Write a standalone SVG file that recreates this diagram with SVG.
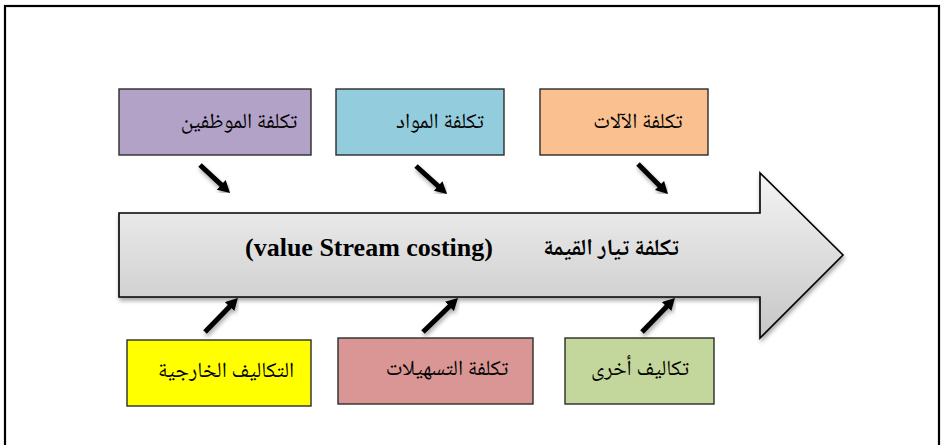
<svg xmlns="http://www.w3.org/2000/svg" width="945" height="445" viewBox="0 0 945 445">
<style>
.box{stroke:#2b2b2b;stroke-width:1.4}
.lbl{font-family:"Noto Naskh Arabic","DejaVu Serif","DejaVu Sans",serif;font-size:21.5px;fill:#000;text-anchor:middle}
.conn{stroke:#000;stroke-width:5;fill:none;marker-end:url(#head);filter:url(#sh)}
.main{font-family:"Liberation Serif","DejaVu Sans",serif;font-weight:bold;font-size:26px;fill:#000;text-anchor:middle}
.mainar{font-family:"Noto Naskh Arabic","DejaVu Sans",serif;font-weight:bold;font-size:23px;fill:#000;text-anchor:middle}
</style>
<defs>
<linearGradient id="g" x1="0" y1="0" x2="0" y2="1">
<stop offset="0" stop-color="#f4f4f4"/>
<stop offset="1" stop-color="#c6c6c6"/>
</linearGradient>
<marker id="head" markerUnits="userSpaceOnUse" markerWidth="12" markerHeight="13" refX="2" refY="6.5" orient="auto">
<path d="M0,0 L12,6.5 L0,13 z" fill="#000"/>
</marker>
<filter id="sh" x="-30%" y="-30%" width="160%" height="160%">
<feDropShadow dx="1" dy="3" stdDeviation="2" flood-color="#000" flood-opacity="0.35"/>
</filter>
</defs>
<rect x="5" y="6" width="934" height="450" fill="#fff" stroke="#000" stroke-width="2.2"/>
<g id="value-stream">
<polygon points="119,213 760,213 760,173 843,255 760,338 760,297 119,297" fill="url(#g)" stroke="#000" stroke-width="1.6" filter="url(#sh)"/>
<text class="main" x="369" y="256">(value Stream costing)</text>
<text class="mainar" x="611" y="255">تكلفة تيار القيمة</text>
</g>
<g id="staff"><rect class="box" x="119" y="89" width="192" height="66" fill="#B3A2C7"/><text class="lbl" x="239" y="128">تكلفة الموظفين</text></g>
<g id="materials"><rect class="box" x="336" y="89" width="168" height="66" fill="#93CDDD"/><text class="lbl" x="440" y="128">تكلفة المواد</text></g>
<g id="machines"><rect class="box" x="540" y="89" width="168" height="66" fill="#FAC090"/><text class="lbl" x="638" y="128">تكلفة الآلات</text></g>
<g id="external"><rect class="box" x="127" y="340" width="184" height="66" fill="#FFFF00"/><text class="lbl" x="226" y="377">التكاليف الخارجية</text></g>
<g id="facilities"><rect class="box" x="338" y="338" width="195" height="66" fill="#D99694"/><text class="lbl" x="447" y="375">تكلفة التسهيلات</text></g>
<g id="other"><rect class="box" x="565" y="338" width="149" height="66" fill="#C3D69B"/><text class="lbl" x="640" y="375">تكاليف أخرى</text></g>
<g id="connectors">
<line class="conn" x1="200" y1="165" x2="222.7" y2="186.2"/>
<line class="conn" x1="416" y1="166" x2="439.6" y2="187.3"/>
<line class="conn" x1="638" y1="164" x2="660.9" y2="186.9"/>
<line class="conn" x1="205" y1="332" x2="231" y2="305.2"/>
<line class="conn" x1="423" y1="332" x2="450.8" y2="305"/>
<line class="conn" x1="642" y1="332" x2="668" y2="305.2"/>
</g>
</svg>
